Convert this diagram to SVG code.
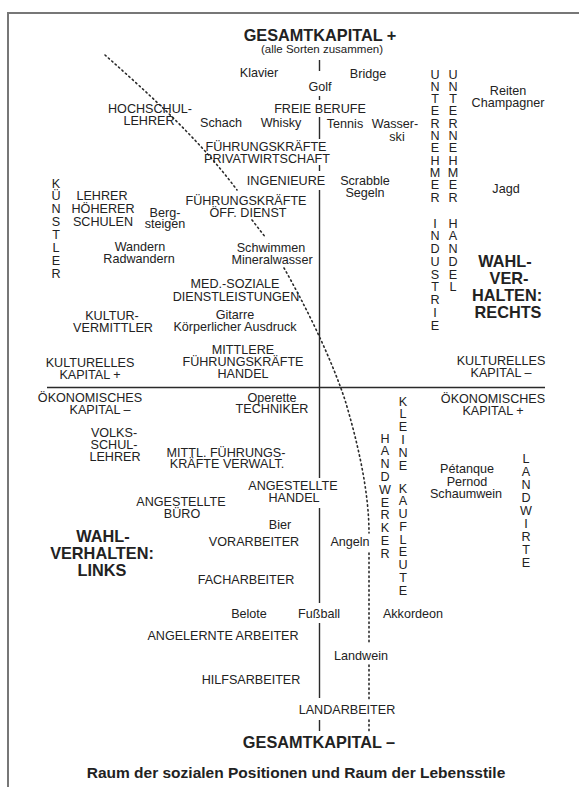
<svg xmlns="http://www.w3.org/2000/svg" width="579" height="787" viewBox="0 0 579 787">
<style>
text{font-family:"Liberation Sans",Arial,Helvetica,sans-serif;font-size:12.6px;fill:#222;text-anchor:middle}
.b{font-weight:bold;font-size:16.3px}
.s{font-size:11.5px}
.cap{font-weight:bold;font-size:15.5px}
.axis{stroke:#2a2a2a;stroke-width:1.4;fill:none}
.dot{stroke:#2a2a2a;stroke-width:1.6;fill:none;stroke-dasharray:1.4 3.2;stroke-linecap:round}
.frame{stroke:#777;stroke-width:2;fill:none}
</style>
<rect width="579" height="787" fill="#fff"/>
<path class="frame" d="M8,787 V13 H579"/>
<g id="connectors">
<path class="axis" d="M319.5,60 V71 M319.5,96 V100 M319.5,117 V139 M319.5,165 V171 M319.5,190 V478 M319.5,508 V603 M319.5,623 V698 M319.5,720 V731"/>
<path class="axis" d="M47,387.5 H545"/>
<path class="dot" d="M105,55 C150,95 200,140 237,190"/>
<path class="dot" d="M252,220 L266,238"/>
<path class="dot" d="M284,268 C305,305 330,355 345,400 C357,440 369,490 369,533"/>
<path class="dot" d="M369,553 V643 M369,665 V700 M369,720 V731"/>
</g>
<g id="n-top"><text class="b" x="320" y="41">GESAMTKAPITAL +</text><text class="s" x="322" y="53">(alle Sorten zusammen)</text></g>
<g id="n-klavier"><text x="259" y="77">Klavier</text></g>
<g id="n-bridge"><text x="368" y="78">Bridge</text></g>
<g id="n-golf"><text x="320" y="91">Golf</text></g>
<g id="n-hochschullehrer"><text x="150" y="113">HOCHSCHUL-</text><text x="149" y="125">LEHRER</text></g>
<g id="n-freieberufe"><text x="320" y="113">FREIE BERUFE</text></g>
<g id="n-schach"><text x="221" y="127">Schach</text></g>
<g id="n-whisky"><text x="281" y="127">Whisky</text></g>
<g id="n-tennis"><text x="345" y="128">Tennis</text></g>
<g id="n-wasserski"><text x="395" y="128">Wasser-</text><text x="397" y="141">ski</text></g>
<g id="n-reiten"><text x="508" y="95">Reiten</text><text x="508" y="107">Champagner</text></g>
<g id="n-fk-privat"><text x="266" y="151">FÜHRUNGSKRÄFTE</text><text x="267" y="163">PRIVATWIRTSCHAFT</text></g>
<g id="n-ingenieure"><text x="286" y="185">INGENIEURE</text></g>
<g id="n-scrabble"><text x="365" y="185">Scrabble</text><text x="365" y="197">Segeln</text></g>
<g id="n-jagd"><text x="506" y="193">Jagd</text></g>
<g id="n-kuenstler"><text x="56" y="187.5">K</text><text x="56" y="200.4">Ü</text><text x="56" y="213.2">N</text><text x="56" y="226.1">S</text><text x="56" y="238.9">T</text><text x="56" y="251.8">L</text><text x="56" y="264.6">E</text><text x="56" y="277.5">R</text></g>
<g id="n-unternehmer-industrie"><text x="435" y="78.5">U</text><text x="435" y="90.8">N</text><text x="435" y="103.1">T</text><text x="435" y="115.4">E</text><text x="435" y="127.7">R</text><text x="435" y="140">N</text><text x="435" y="152.3">E</text><text x="435" y="164.6">H</text><text x="435" y="176.9">M</text><text x="435" y="189.2">E</text><text x="435" y="201.5">R</text><text x="435" y="227.5">I</text><text x="435" y="240.3">N</text><text x="435" y="253">D</text><text x="435" y="265.8">U</text><text x="435" y="278.5">S</text><text x="435" y="291.3">T</text><text x="435" y="304">R</text><text x="435" y="316.8">I</text><text x="435" y="329.5">E</text></g>
<g id="n-unternehmer-handel"><text x="453" y="78.5">U</text><text x="453" y="90.8">N</text><text x="453" y="103.1">T</text><text x="453" y="115.4">E</text><text x="453" y="127.7">R</text><text x="453" y="140">N</text><text x="453" y="152.3">E</text><text x="453" y="164.6">H</text><text x="453" y="176.9">M</text><text x="453" y="189.2">E</text><text x="453" y="201.5">R</text><text x="453" y="227.5">H</text><text x="453" y="240.3">A</text><text x="453" y="253">N</text><text x="453" y="265.8">D</text><text x="453" y="278.5">E</text><text x="453" y="291.3">L</text></g>
<g id="n-lehrer-hoeherer"><text x="102" y="200">LEHRER</text><text x="103" y="213">HÖHERER</text><text x="103" y="226">SCHULEN</text></g>
<g id="n-bergsteigen"><text x="165" y="217">Berg-</text><text x="165" y="228">steigen</text></g>
<g id="n-fk-oeff"><text x="246" y="205">FÜHRUNGSKRÄFTE</text><text x="248" y="217">ÖFF. DIENST</text></g>
<g id="n-wandern"><text x="140" y="251">Wandern</text><text x="139" y="263">Radwandern</text></g>
<g id="n-schwimmen"><text x="271" y="252">Schwimmen</text><text x="272" y="264">Mineralwasser</text></g>
<g id="n-medsoz"><text x="235" y="288">MED.-SOZIALE</text><text x="236" y="301">DIENSTLEISTUNGEN</text></g>
<g id="n-kulturvermittler"><text x="112" y="320">KULTUR-</text><text x="113" y="332">VERMITTLER</text></g>
<g id="n-gitarre"><text x="235" y="319">Gitarre</text><text x="235" y="331">Körperlicher Ausdruck</text></g>
<g id="n-mittlere-fk-handel"><text x="243" y="354">MITTLERE</text><text x="243" y="366">FÜHRUNGSKRÄFTE</text><text x="243" y="378">HANDEL</text></g>
<g id="n-kultkap-plus"><text x="90" y="367">KULTURELLES</text><text x="90" y="379">KAPITAL +</text></g>
<g id="n-kultkap-minus"><text x="501" y="365">KULTURELLES</text><text x="501" y="377">KAPITAL –</text></g>
<g id="n-wahl-rechts"><text class="b" x="505" y="267">WAHL-</text><text class="b" x="509" y="284">VER-</text><text class="b" x="507" y="301">HALTEN:</text><text class="b" x="508" y="318">RECHTS</text></g>
<g id="n-oekkap-minus"><text x="90" y="402">ÖKONOMISCHES</text><text x="100" y="414">KAPITAL –</text></g>
<g id="n-operette"><text x="272" y="402">Operette</text></g>
<g id="n-techniker"><text x="272" y="413">TECHNIKER</text></g>
<g id="n-oekkap-plus"><text x="493" y="403">ÖKONOMISCHES</text><text x="493" y="415">KAPITAL +</text></g>
<g id="n-volksschullehrer"><text x="114" y="437">VOLKS-</text><text x="114" y="449">SCHUL-</text><text x="115" y="461">LEHRER</text></g>
<g id="n-mittl-fk-verwalt"><text x="226" y="457">MITTL. FÜHRUNGS-</text><text x="227" y="468">KRÄFTE VERWALT.</text></g>
<g id="n-kleine-kaufleute"><text x="403" y="405.5">K</text><text x="403" y="418.3">L</text><text x="403" y="431.1">E</text><text x="403" y="443.9">I</text><text x="403" y="456.7">N</text><text x="403" y="469.5">E</text><text x="403" y="492.5">K</text><text x="403" y="505.3">A</text><text x="403" y="518">U</text><text x="403" y="530.8">F</text><text x="403" y="543.5">L</text><text x="403" y="556.3">E</text><text x="403" y="569">U</text><text x="403" y="581.8">T</text><text x="403" y="594.5">E</text></g>
<g id="n-handwerker"><text x="385" y="442.5">H</text><text x="385" y="455.3">A</text><text x="385" y="468.1">N</text><text x="385" y="480.9">D</text><text x="385" y="493.7">W</text><text x="385" y="506.5">E</text><text x="385" y="519.3">R</text><text x="385" y="532.1">K</text><text x="385" y="544.9">E</text><text x="385" y="557.7">R</text></g>
<g id="n-landwirte"><text x="526" y="462.5">L</text><text x="526" y="475.5">A</text><text x="526" y="488.5">N</text><text x="526" y="501.5">D</text><text x="526" y="514.5">W</text><text x="526" y="527.5">I</text><text x="526" y="540.5">R</text><text x="526" y="553.5">T</text><text x="526" y="566.5">E</text></g>
<g id="n-petanque"><text x="467" y="473">Pétanque</text><text x="467" y="486">Pernod</text><text x="466" y="498">Schaumwein</text></g>
<g id="n-angestellte-handel"><text x="293" y="490">ANGESTELLTE</text><text x="294" y="502">HANDEL</text></g>
<g id="n-angestellte-buero"><text x="181" y="506">ANGESTELLTE</text><text x="182" y="518">BÜRO</text></g>
<g id="n-bier"><text x="280" y="529">Bier</text></g>
<g id="n-vorarbeiter"><text x="254" y="546">VORARBEITER</text></g>
<g id="n-wahl-links"><text class="b" x="103" y="542">WAHL-</text><text class="b" x="102" y="559">VERHALTEN:</text><text class="b" x="102" y="576">LINKS</text></g>
<g id="n-angeln"><text x="350" y="546">Angeln</text></g>
<g id="n-facharbeiter"><text x="246" y="584">FACHARBEITER</text></g>
<g id="n-belote"><text x="249" y="618">Belote</text></g>
<g id="n-fussball"><text x="319" y="618">Fußball</text></g>
<g id="n-akkordeon"><text x="413" y="618">Akkordeon</text></g>
<g id="n-angelernte"><text x="223" y="640">ANGELERNTE ARBEITER</text></g>
<g id="n-landwein"><text x="361" y="660">Landwein</text></g>
<g id="n-hilfsarbeiter"><text x="251" y="684">HILFSARBEITER</text></g>
<g id="n-landarbeiter"><text x="347" y="714">LANDARBEITER</text></g>
<g id="n-bottom"><text class="b" x="319" y="748">GESAMTKAPITAL –</text></g>
<g id="caption"><text class="cap" x="296" y="778">Raum der sozialen Positionen und Raum der Lebensstile</text></g>
</svg>
